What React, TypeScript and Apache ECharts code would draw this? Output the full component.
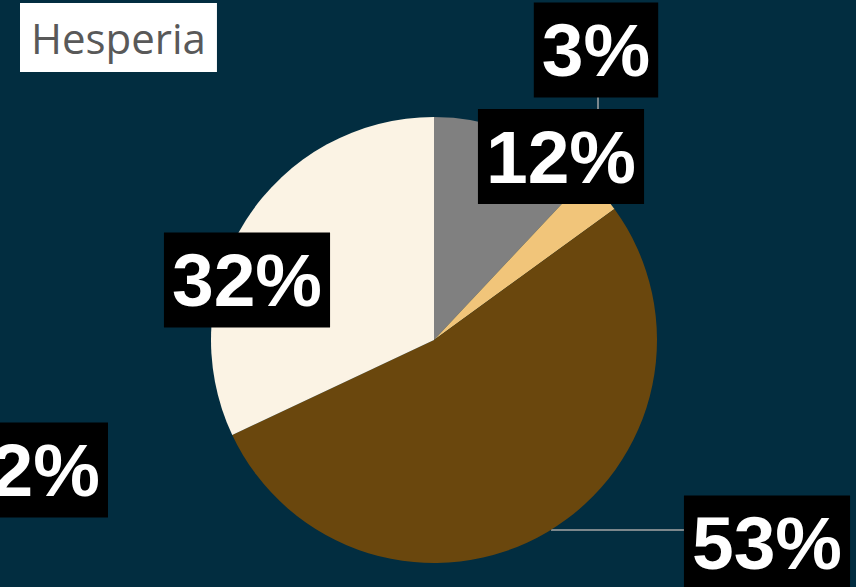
import React, { useEffect, useRef } from "react";
import * as echarts from "echarts";

const TITLE = "Hesperia";
const categories = ["Gray", "Gold", "Brown", "Cream"];
const values = [12, 3, 53, 32];
const colors = ["#808080", "#F1C57A", "#6A470D", "#FBF3E4"];
const orphanLabel = "2%";

// label box centres (layout only)
const labelPos: [number, number][] = [
  [561, 156.5],
  [596, 50],
  [767, 543],
  [247, 280],
];
const linePts: (number[][] | null)[] = [
  null,
  [[598, 110], [598, 104], [598, 97]],
  [[551, 530], [620, 530], [684, 530]],
  null,
];

export default function App() {
  const ref = useRef<HTMLDivElement>(null);
  useEffect(() => {
    if (!ref.current) return;
    document.body.style.margin = "0";
    const chart = echarts.init(ref.current, null, { renderer: "svg" });
    const labelFont = {
      fontFamily: "Liberation Sans, Arial, sans-serif",
      fontWeight: "bold" as const,
      fontSize: 75,
      color: "#ffffff",
      backgroundColor: "#000000",
      padding: [10, 8],
    };
    chart.setOption({
      animation: false,
      backgroundColor: "#022D40",
      title: {
        text: TITLE,
        left: 20,
        top: 3,
        backgroundColor: "#ffffff",
        padding: [8, 11, 9, 11],
        textStyle: {
          fontFamily: "Open Sans",
          fontWeight: "normal",
          fontSize: 42,
          lineHeight: 52,
          color: "#595959",
        },
      },
      graphic: [
        {
          type: "text",
          x: 108,
          y: 470,
          z: 100,
          style: {
            text: orphanLabel,
            fill: "#ffffff",
            font: "bold 75px 'Liberation Sans', Arial, sans-serif",
            align: "right",
            verticalAlign: "middle",
            backgroundColor: "#000000",
            padding: [10, 8, 10, 9],
          },
        },
      ],
      series: [
        {
          type: "pie",
          center: [434, 340],
          radius: 223,
          startAngle: 90,
          clockwise: true,
          silent: true,
          data: categories.map((c, i) => ({
            name: c,
            value: values[i],
            itemStyle: { color: colors[i] },
            labelLine: { show: linePts[i] != null },
          })),
          label: {
            show: true,
            position: "outside",
            formatter: (p: any) => `${Math.round(p.percent)}%`,
            ...labelFont,
          },
          labelLine: {
            show: true,
            lineStyle: { color: "#A6A6A6", width: 1.5 },
          },
          labelLayout: (params: any) => {
            const i = params.dataIndex;
            const res: any = {
              x: labelPos[i][0],
              y: labelPos[i][1],
              align: "center",
              verticalAlign: "middle",
            };
            if (linePts[i]) res.labelLinePoints = linePts[i];
            return res;
          },
        },
      ],
    });
    return () => chart.dispose();
  }, []);
  return (
    <div
      ref={ref}
      style={{ position: "fixed", left: 0, top: 0, width: 856, height: 587 }}
    />
  );
}
